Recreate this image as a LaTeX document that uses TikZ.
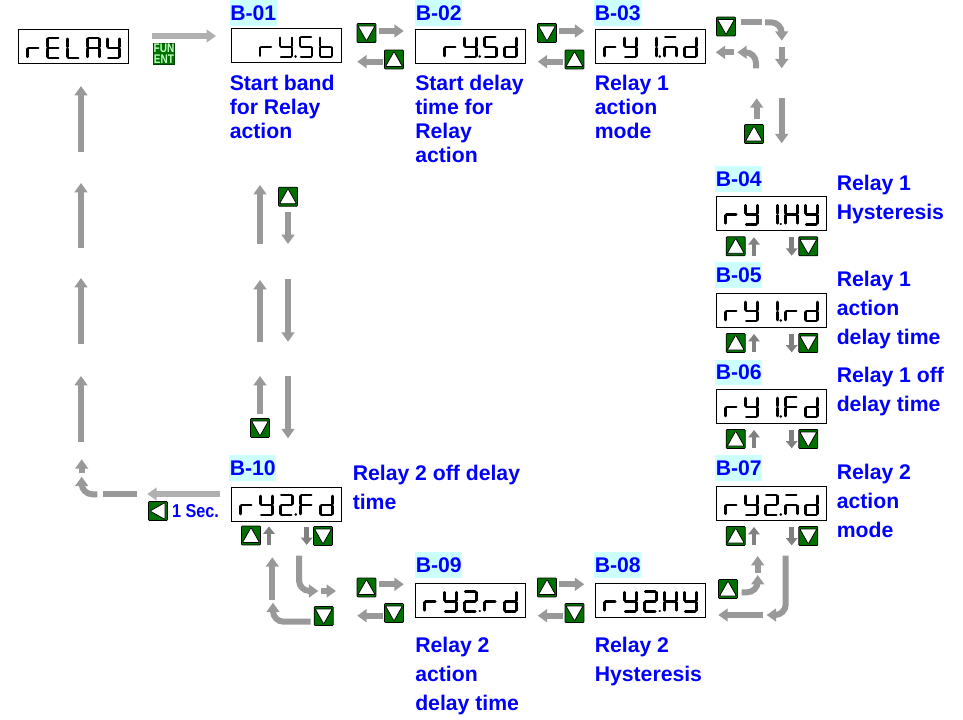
\documentclass[tikz,border=0pt]{standalone}
\usepackage{fontspec}
\setmainfont{Liberation Sans}
\usepackage{tikz}
\usetikzlibrary{arrows.meta,calc}
\usepackage{xcolor}
\definecolor{keygreen}{RGB}{0,112,0}
\definecolor{tagcyan}{RGB}{204,255,255}
\definecolor{labelblue}{RGB}{0,0,255}
\definecolor{flowgray}{RGB}{153,153,153}
\definecolor{flowlight}{RGB}{176,176,176}
\definecolor{flowdark}{RGB}{128,128,128}
% seven segment parts, a glyph is a list of them
\def\sega{(1,-10)--(11,-10)}
\def\segb{(12,-9)--(12,-1)}
\def\segc{(12,1)--(12,9)}
\def\segd{(1,10)--(11,10)}
\def\sege{(0,1)--(0,9)}
\def\segf{(0,-9)--(0,-1)}
\def\segg{(1,0)--(11,0)}
\newcommand{\defglyph}[2]{\expandafter\def\csname glyph#1\endcsname{#2}}
\defglyph{r}{\sege\segg}
\defglyph{E}{\sega\segd\sege\segf\segg}
\defglyph{L}{\segd\sege\segf}
\defglyph{A}{\sega\segb\segc\sege\segf\segg}
\defglyph{Y}{\segb\segc\segd\segf\segg}
\defglyph{S}{\sega\segc\segd\segf\segg}
\defglyph{b}{\segc\segd\sege\segf\segg}
\defglyph{d}{\segb\segc\segd\sege\segg}
\defglyph{m}{\sega\segc\sege\segg}
\defglyph{H}{\segb\segc\sege\segf\segg}
\defglyph{F}{\sega\sege\segf\segg}
\defglyph{1}{\segb\segc}
\defglyph{2}{\sega\segb\segd\sege\segg}
\defglyph{dot}{(15.5,9.5)--(15.6,9.5)}
\newcommand{\segtext}[2]{\foreach \slot/\ch in {#2}{\draw[segline,shift={($(#1.west)+(9+20*\slot,1)$)}] \csname glyph\ch\endcsname;}}
\tikzset{
  display/.style={draw=black,line width=.7pt,fill=white,minimum width=82.5pt,minimum height=25.5pt,inner sep=0pt},
  segline/.style={line width=1.9pt,line cap=round,black},
  tag/.style={fill=tagcyan,anchor=north west,minimum width=35.2pt,minimum height=19.2pt,inner sep=0pt,text=labelblue,font=\bfseries\fontsize{15.9}{18}\selectfont},
  note/.style={anchor=north west,inner sep=0pt,align=left,text=labelblue,font=\bfseries\fontsize{15.9}{18}\selectfont},
  notewide/.style={note,font=\bfseries\fontsize{15.9}{21.75}\selectfont},
  keybox/.style={draw=black,line width=.6pt,fill=keygreen,minimum size=14.2pt,inner sep=0pt,rounded corners=.6pt},
  keytri/.style={black,fill=white,line width=.6pt,miter limit=2},
  keyup/.style={keybox,path picture={\draw[keytri] ($(path picture bounding box.center)+(-8.5,7)$)--++(17,0)--++(-8.5,-15)--cycle;}},
  keydown/.style={keybox,path picture={\draw[keytri] ($(path picture bounding box.center)+(-8.5,-7)$)--++(17,0)--++(-8.5,15)--cycle;}},
  keyleft/.style={keybox,path picture={\draw[keytri] ($(path picture bounding box.center)+(7,-8.5)$)--++(0,17)--++(-15,-8.5)--cycle;}},
  fatarrow/.style={flowgray,line width=4.5pt,-{Triangle[length=7pt,width=9.5pt]}},
  lightarrow/.style={fatarrow,flowlight},
  thinarrow/.style={flowdark,line width=3.4pt,-{Triangle[length=5.5pt,width=8.5pt]}},
  fatbar/.style={flowgray,line width=4.5pt},
}
\begin{document}
\begin{tikzpicture}[x=.75pt,y=-.75pt]
\useasboundingbox (0,0) rectangle (963,720);
\foreach \nm/\x/\y in {rlay/73.7/46.8,d1/286.5/45.8,d2/470.7/46,d3/650.7/46,d4/771.7/213.3,d5/771.7/310,d6/771.7/406,d7/771.7/503.8,d8/650.7/600.3,d9/470.7/600.3,d10/286.7/504}
  \node[display] (\nm) at (\x,\y) {};
\segtext{rlay}{0/r,1/E,2/L,3/A,4/Y}
\segtext{d1}{1/r,2/Y,2/dot,3/S,4/b}
\segtext{d2}{1/r,2/Y,2/dot,3/S,4/d}
\segtext{d3}{0/r,1/Y,2/1,2/dot,3/m,4/d}
\segtext{d4}{0/r,1/Y,2/1,2/dot,3/H,4/Y}
\segtext{d5}{0/r,1/Y,2/1,2/dot,3/r,4/d}
\segtext{d6}{0/r,1/Y,2/1,2/dot,3/F,4/d}
\segtext{d7}{0/r,1/Y,2/2,2/dot,3/m,4/d}
\segtext{d8}{0/r,1/Y,2/2,2/dot,3/H,4/Y}
\segtext{d9}{0/r,1/Y,2/2,2/dot,3/r,4/d}
\segtext{d10}{0/r,1/Y,2/2,2/dot,3/F,4/d}
\foreach \nm/\x/\y/\lab in {t1/229.5/0/B-01,t2/415/0/B-02,t3/594/0/B-03,t4/715/166/B-04,t5/715/262/B-05,t6/715/359.5/B-06,t7/715/455/B-07,t8/594/552/B-08,t9/415/552/B-09,t10/229/455/B-10}
  \node[tag] (\nm) at (\x,\y) {\lab};
\node[note] (n1) at (229.5,75) {Start band\\for Relay\\action};
\node[note] (n2) at (415,75) {Start delay\\time for\\Relay\\action};
\node[note] (n3) at (594.5,75) {Relay 1\\action\\mode};
\node[notewide] (n4) at (836.5,174.5) {Relay 1\\Hysteresis};
\node[notewide] (n5) at (836.5,270.5) {Relay 1\\action\\delay time};
\node[notewide] (n6) at (836.5,367) {Relay 1 off\\delay time};
\node[notewide] (n7) at (836.5,463.5) {Relay 2\\action\\mode};
\node[notewide] (n8) at (594.5,636.5) {Relay 2\\Hysteresis};
\node[notewide] (n9) at (415,636.5) {Relay 2\\action\\delay time};
\node[notewide] (n10) at (352.5,464.5) {Relay 2 off delay\\time};
\node[text=labelblue,inner sep=0pt,font=\bfseries\fontsize{14}{16}\selectfont] (sec) at (195.5,511.5) {\scalebox{.87}[1]{1 Sec.}};
\node[draw=keygreen!60!black,line width=.5pt,fill=keygreen,minimum size=15.8pt,inner sep=0pt,align=center,text=green!25!white,font=\bfseries\fontsize{9.4}{8.2}\selectfont] (fun) at (164,53.5) {\scalebox{.8}[1]{FUN}\\\scalebox{.8}[1]{ENT}};
\foreach \nm/\x/\y/\st in {k1/366.5/33/keydown,k2/394/59.5/keyup,k3/547/33/keydown,k4/574.5/59.5/keyup,k5/726/26.5/keydown,k6/754/134/keyup,k7/288/196.7/keyup,k8/260/428/keydown,k9/158/511/keyleft,k10/323.7/616/keydown,k11/366.5/587.5/keyup,k12/394/613/keydown,k13/547/587.5/keyup,k14/574.5/613/keydown,k15/728/589/keyup,k16/735.7/246.3/keyup,k17/808.3/246.3/keydown,k18/735.7/343/keyup,k19/808.3/343/keydown,k20/735.7/439/keyup,k21/808.3/439/keydown,k22/735.7/536/keyup,k23/808.3/536/keydown,k24/251/535.5/keyup,k25/323/536/keydown}
  \node[\st] (\nm) at (\x,\y) {};
\foreach \nm/\xa/\ya/\xb/\yb in {a1/81/152/81/86,a2/81/248/81/183,a3/81/344/81/278,a4/81/442/81/376,a5/81.7/473.3/81.7/459.3,
  a6/378.5/31/403.8/31,a7/382.8/61.7/357.2/61.7,a8/559/31/584.3/31,a9/563.3/61.7/537.7/61.7,
  a10/781.7/46.7/781.7/68.3,a11/734/52.3/715.7/52.3,a12/756.7/119/756.7/98.3,a13/781.7/97.7/781.7/143.3,
  a14/260/244/260/185,a15/288/212.3/288/244,a16/260/341.7/260/280,a17/288/279.3/288/341.7,a18/260/414.3/260/376,a19/288/376/288/438.3,
  a20/321/591/336/591,a21/272.3/600/272.3/557.3,a22/757.7/572.7/757.7/556,a23/763.3/615/718.3/615,
  a24/378.5/584.3/403.8/584.3,a25/382.8/615.7/357.2/615.7,a26/559/584.3/584.3/584.3,a27/563.3/615.7/537.7/615.7}
{
  \coordinate (\nm a) at (\xa,\ya);
  \coordinate (\nm b) at (\xb,\yb);
  \draw[fatarrow] (\nm a)--(\nm b);
}
\foreach \nm/\xa/\ya/\xc/\yc/\xb/\yb in {c1/765/22.3/781.7/22.3/781.7/40.7,c2/756/68.3/756/52.3/737.3/52.3,c3/97.3/494.3/81.7/494.3/81.7/476.7,c4/299/555.7/299/591/318.3/591,c5/310.7/621.7/273/621.7/273/602.7,c6/741.7/592.3/757.7/592.3/757.7/575,c7/785.7/555.7/785.7/615/766.7/615}
{
  \coordinate (\nm a) at (\xa,\ya);
  \coordinate (\nm c) at (\xc,\yc);
  \coordinate (\nm b) at (\xb,\yb);
  \draw[fatarrow,rounded corners=8pt] (\nm a)--(\nm c)--(\nm b);
}
\coordinate (fa) at (152.3,36);
\coordinate (fb) at (216,36);
\draw[lightarrow] (fa)--(fb);
\coordinate (sa) at (220,494);
\coordinate (sb) at (147.3,494);
\draw[lightarrow] (sa)--(sb);
\coordinate (ba) at (740.7,22.3);
\coordinate (bb) at (762.3,22.3);
\draw[fatbar] (ba)--(bb);
\coordinate (ca) at (103.3,494.3);
\coordinate (cb) at (137.3,494.3);
\draw[fatbar] (ca)--(cb);
\foreach \nm/\x/\y in {u4/754/246.3,u5/754/343,u6/754/439,u7/754/536,u10/269/535.5}
{
  \coordinate (\nm a) at (\x,\y+9.4);
  \coordinate (\nm b) at (\x,\y-9);
  \draw[thinarrow] (\nm a)--(\nm b);
}
\foreach \nm/\x/\y in {v4/791.7/246.3,v5/791.7/343,v6/791.7/439,v7/791.7/536,v10/306.7/535.5}
{
  \coordinate (\nm a) at (\x,\y-9);
  \coordinate (\nm b) at (\x,\y+9.4);
  \draw[thinarrow] (\nm a)--(\nm b);
}
\end{tikzpicture}
\end{document}
